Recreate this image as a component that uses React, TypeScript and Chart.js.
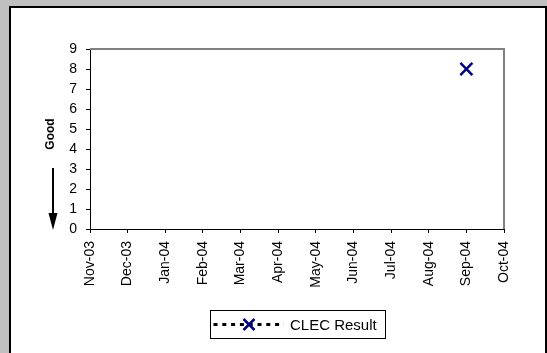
import React, { useEffect, useRef } from "react";
import { Chart, registerables } from "chart.js";

Chart.register(...registerables);

const categories = [
  "Nov-03", "Dec-03", "Jan-04", "Feb-04", "Mar-04", "Apr-04",
  "May-04", "Jun-04", "Jul-04", "Aug-04", "Sep-04", "Oct-04",
];
const clecResult: (number | null)[] = [null, null, null, null, null, null, null, null, null, null, 8, null];
const yMin = 0;
const yMax = 9;
const yStep = 1;
const seriesLabel = "CLEC Result";
const axisNote = "Good";

const FONT = "'Liberation Sans', Arial, sans-serif";

const decorPlugin = {
  id: "decor",
  afterDraw(chart: any) {
    const { ctx, chartArea } = chart;
    ctx.save();
    // gray top & right frame
    ctx.strokeStyle = "#808080";
    ctx.lineWidth = 2;
    ctx.beginPath();
    ctx.moveTo(chartArea.left, chartArea.top);
    ctx.lineTo(chartArea.right, chartArea.top);
    ctx.lineTo(chartArea.right, chartArea.bottom);
    ctx.stroke();

    // "Good" label + arrow
    ctx.fillStyle = "#000";
    ctx.font = `bold 12px ${FONT}`;
    ctx.translate(51, 134);
    ctx.rotate(-Math.PI / 2);
    ctx.textAlign = "center";
    ctx.textBaseline = "middle";
    ctx.fillText(axisNote, 0, 0);
    ctx.setTransform(1, 0, 0, 1, 0, 0);
    ctx.strokeStyle = "#000";
    ctx.lineWidth = 2;
    ctx.beginPath();
    ctx.moveTo(53, 168);
    ctx.lineTo(53, 215);
    ctx.stroke();
    ctx.beginPath();
    ctx.moveTo(48.5, 213);
    ctx.lineTo(57.5, 213);
    ctx.lineTo(53, 230);
    ctx.closePath();
    ctx.fill();

    // legend
    const ds = chart.data.datasets[0];
    const bx = 210.5, by = 310.5, bw = 175, bh = 28;
    ctx.fillStyle = "#fff";
    ctx.fillRect(bx, by, bw, bh);
    ctx.strokeStyle = "#000";
    ctx.lineWidth = 1;
    ctx.strokeRect(bx, by, bw, bh);
    const ly = by + bh / 2;
    ctx.lineWidth = 3;
    ctx.setLineDash([4, 4.8]);
    ctx.beginPath();
    ctx.moveTo(213.5, ly);
    ctx.lineTo(284, ly);
    ctx.stroke();
    ctx.setLineDash([]);
    ctx.strokeStyle = "#000080";
    ctx.lineWidth = 2.5;
    const cx = 249, r = 5.5;
    ctx.beginPath();
    ctx.moveTo(cx - r, ly - r);
    ctx.lineTo(cx + r, ly + r);
    ctx.moveTo(cx - r, ly + r);
    ctx.lineTo(cx + r, ly - r);
    ctx.stroke();
    ctx.fillStyle = "#000";
    ctx.font = `15px ${FONT}`;
    ctx.textAlign = "left";
    ctx.textBaseline = "middle";
    ctx.fillText(ds.label, 290, ly + 1);
    ctx.restore();
  },
};

export default function App() {
  const ref = useRef<HTMLCanvasElement>(null);
  useEffect(() => {
    if (!ref.current) return;
    Chart.defaults.font.family = FONT;
    const chart = new Chart(ref.current, {
      type: "line",
      data: {
        labels: categories,
        datasets: [
          {
            label: seriesLabel,
            data: clecResult,
            borderColor: "#000",
            borderDash: [4, 4.5],
            borderWidth: 2.5,
            pointStyle: "crossRot",
            pointRadius: 8.5,
            pointHoverRadius: 8.5,
            pointBorderColor: "#000080",
            pointBackgroundColor: "#000080",
            pointBorderWidth: 2.5,
            spanGaps: false,
          },
        ],
      },
      options: {
        responsive: false,
        animation: false,
        events: [],
        layout: { padding: { left: 0, top: 49, right: 43, bottom: 0 } },
        plugins: { legend: { display: false }, tooltip: { enabled: false } },
        scales: {
          x: {
            type: "category",
            offset: false,
            grid: { display: true, drawOnChartArea: false, drawTicks: true, tickLength: 4, color: "#000" },
            border: { color: "#000", width: 1 },
            ticks: { minRotation: 90, maxRotation: 90, autoSkip: false, color: "#000", font: { size: 14 }, padding: 8 },
            afterFit: (s: any) => { s.height = 124; },
          },
          y: {
            min: yMin,
            max: yMax,
            grid: { display: true, drawOnChartArea: false, drawTicks: true, tickLength: 4, color: "#000" },
            border: { color: "#000", width: 1 },
            ticks: { stepSize: yStep, color: "#000", font: { size: 14 }, padding: 9 },
            afterFit: (s: any) => { s.width = 90; },
          },
        },
      },
      plugins: [decorPlugin],
    });
    return () => chart.destroy();
  }, []);

  return (
    <div style={{ position: "fixed", left: 0, top: 0, width: 547, height: 353, background: "#c0c0c0", overflow: "hidden" }}>
      <div style={{ position: "absolute", left: 9, top: 6, width: 534, height: 360, background: "#fff", border: "2px solid #000" }} />
      <canvas ref={ref} width={547} height={353} style={{ position: "absolute", left: 0, top: 0, width: 547, height: 353 }} />
    </div>
  );
}
